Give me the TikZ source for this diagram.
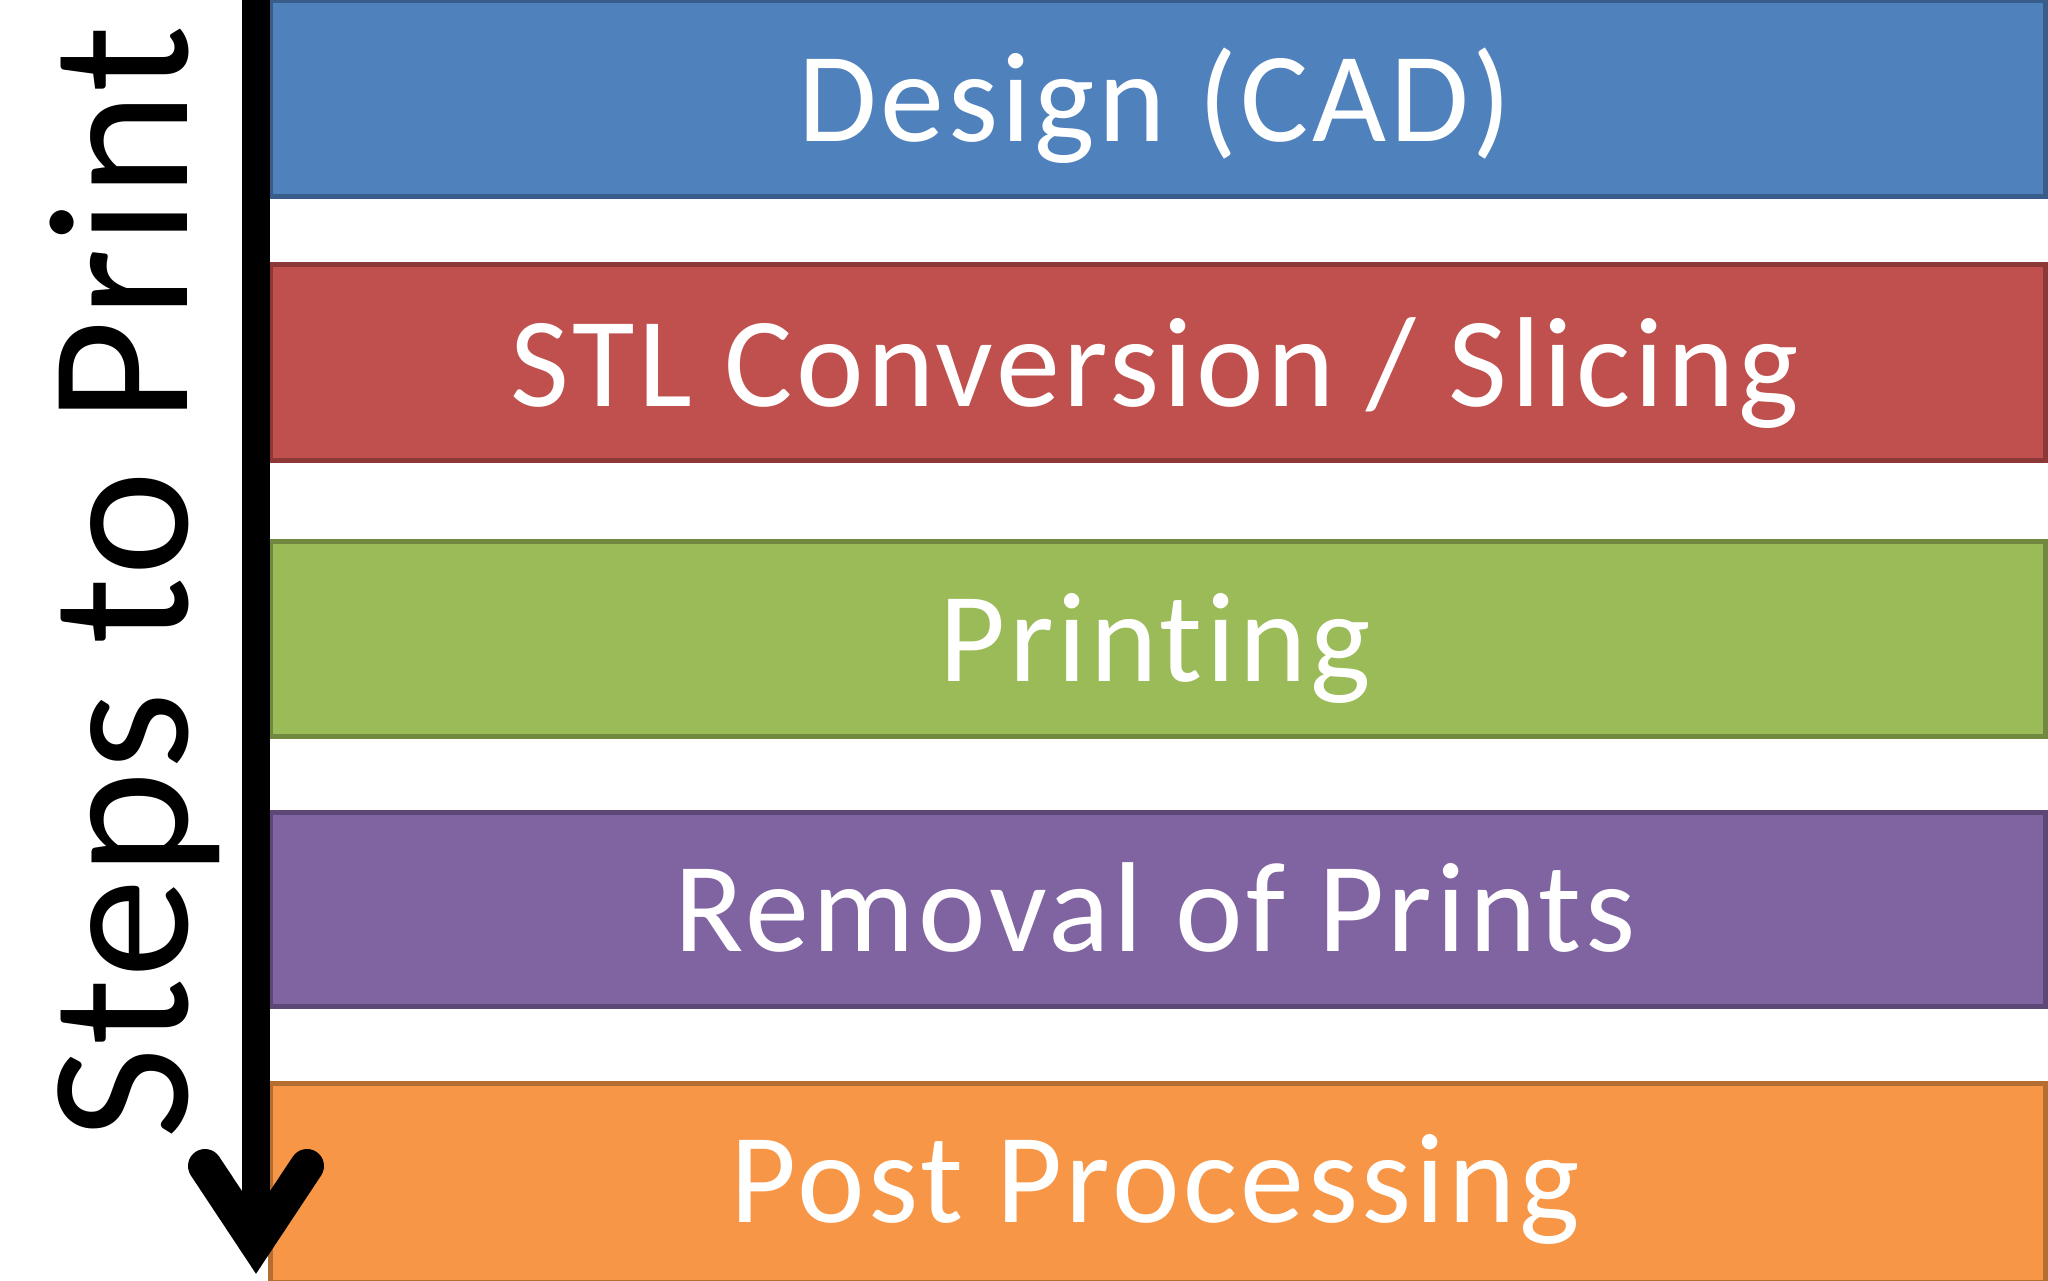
\documentclass[tikz,border=0pt]{standalone}
\usepackage{fontspec}
\setmainfont{Carlito}[Ligatures=NoCommon]
\newfontfamily\boxfont{Carlito}[LetterSpace=2.8,Ligatures=NoCommon]
\newfontfamily\lblfont{Carlito}[LetterSpace=1.2,Ligatures=NoCommon]
\definecolor{bFill}{HTML}{4F81BD}\definecolor{bLine}{HTML}{385D8A}
\definecolor{rFill}{HTML}{C0504D}\definecolor{rLine}{HTML}{8C3836}
\definecolor{gFill}{HTML}{9BBB59}\definecolor{gLine}{HTML}{71893F}
\definecolor{pFill}{HTML}{8064A2}\definecolor{pLine}{HTML}{5C4776}
\definecolor{oFill}{HTML}{F79646}\definecolor{oLine}{HTML}{B66D31}
\tikzset{
  stepbox/.style={line width=5pt},
  steptext/.style={text=white,font=\boxfont\fontsize{128}{150}\selectfont,inner sep=0pt,anchor=base},
  axisline/.style={line width=28pt},
  headline/.style={line width=34pt,line cap=round,line join=miter},
}
\begin{document}
\begin{tikzpicture}[x=1pt,y=-1pt]
\useasboundingbox (0,0) rectangle (2048,1280);
\fill[white] (0,0) rectangle (2048,1280);
% boxes
\draw[stepbox,fill=bFill,draw=bLine] (270,0.5) rectangle (2045.5,196);
\draw[stepbox,fill=rFill,draw=rLine] (270,264.5) rectangle (2045.5,460.5);
\draw[stepbox,fill=gFill,draw=gLine] (270,541.5) rectangle (2045.5,736);
\draw[stepbox,fill=pFill,draw=pLine] (270,812.5) rectangle (2045.5,1006);
\draw[stepbox,fill=oFill,draw=oLine] (270,1083.5) rectangle (2045.5,1282);
\node[steptext] (t1) at (1155,141) {Design (CAD)};
\node[steptext] (t2) at (1155,406) {STL Conversion / Slicing};
\node[steptext] (t3) at (1155,681) {Printing};
\node[steptext] (t4) at (1155,951) {Removal of Prints};
\node[steptext] (t5) at (1155,1222) {Post Processing};
% arrow
\coordinate (top) at (256,0);
\coordinate (tip) at (256,1243);
\coordinate (la) at (205,1166);
\coordinate (ra) at (307,1166);
\draw[axisline] (top) -- (256,1230);
\draw[headline] (la) -- (tip) -- (ra);
% label
\node[rotate=90,anchor=base west,inner sep=0pt,font=\lblfont\fontsize{200}{240}\selectfont] (lbl) at (187,1140) {Steps to Print};
\end{tikzpicture}
\end{document}
